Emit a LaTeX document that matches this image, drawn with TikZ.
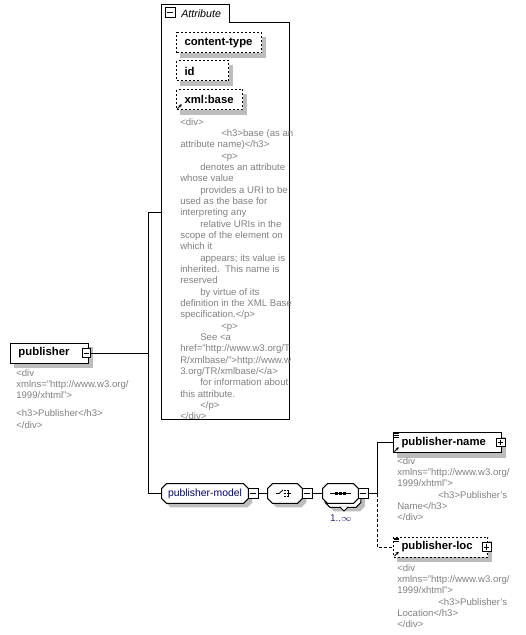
\documentclass[tikz,border=0pt]{standalone}
\usepackage{fontspec}
\setmainfont{Liberation Sans}
\usetikzlibrary{arrows.meta, positioning, backgrounds, calc}
\definecolor{notegray}  {HTML}{808080}
\definecolor{modeltext} {HTML}{000060}
\definecolor{multcol}   {HTML}{3A2A7A}
\definecolor{shadowgray}{HTML}{BDBDBD}
\newcommand{\ia}{\hspace*{15pt}}
\newcommand{\ib}{\hspace*{30.75pt}}
\newcommand{\refmark}[1]{\draw[-{Stealth[length=2.2pt,width=2.4pt]}, line width=0.6pt]
  ([xshift=1.1pt,yshift=1.1pt]#1.south west) -- ++(3.2pt,3.2pt);}
\newcommand{\elemmark}[1]{\foreach \yy in {1.2pt,2.4pt,3.6pt}
  \draw[line width=0.45pt] ([xshift=1.1pt,yshift=-\yy]#1.north west) -- ++(3.6pt,0pt);}
\newcommand{\boxshade}[1]{\fill[shadowgray] ($(#1.south west)+(3pt,-3.5pt)$)
  rectangle ($(#1.north east)+(3pt,-3.5pt)$);}
\newcommand{\octpath}[3]{\path[#1] ($(#2.south west)+(3.5pt+#3,-#3)$) -- ($(#2.south east)+(-3.5pt+#3,-#3)$)
  -- ($(#2.south east)+(#3,3.5pt-#3)$) -- ($(#2.north east)+(#3,-3.5pt-#3)$) -- ($(#2.north east)+(-3.5pt+#3,-#3)$)
  -- ($(#2.north west)+(3.5pt+#3,-#3)$) -- ($(#2.north west)+(#3,-3.5pt-#3)$) -- ($(#2.south west)+(#3,3.5pt-#3)$) -- cycle;}

\begin{document}
\begin{tikzpicture}[
    x=0.75pt, y=-0.75pt,
    elem/.style={draw, line width=0.75pt, fill=white, align=left,
                 minimum height=15pt, inner xsep=6pt, inner ysep=0pt,
                 font=\fontsize{8.5pt}{10pt}\selectfont\bfseries},
    optelem/.style={elem, dash pattern=on 1.5pt off 1.5pt},
    oct/.style={minimum height=14.25pt, inner sep=0pt},
    octline/.style={draw, line width=0.75pt, fill=white},
    octshade/.style={fill=shadowgray},
    note/.style={align=left, inner sep=0pt, text=notegray,
                 font=\fontsize{7.2pt}{8.5pt}\selectfont},
    pmbox/.style={draw, line width=0.75pt, fill=white, minimum size=6.5pt, inner sep=0pt},
    minusbox/.style={pmbox, path picture={
        \draw ([xshift=1.3pt]path picture bounding box.west) -- ([xshift=-1.3pt]path picture bounding box.east);}},
    plusbox/.style={pmbox, path picture={
        \draw ([xshift=1.3pt]path picture bounding box.west) -- ([xshift=-1.3pt]path picture bounding box.east);
        \draw ([yshift=-1.3pt]path picture bounding box.north) -- ([yshift=1.3pt]path picture bounding box.south);}},
    conn/.style={line width=0.75pt},
    optconn/.style={conn, dash pattern=on 2.25pt off 1.5pt},
  ]
    \useasboundingbox (0,0) rectangle (525,635);

    % attribute group
    \node[minimum width=95.25pt, minimum height=310.5pt, inner sep=0pt] (attrgrp) at (225.5,212) {};
    \draw[conn] (attrgrp.south west) -- (attrgrp.north west) -- ([xshift=51pt]attrgrp.north west)
      -- ([xshift=51pt,yshift=-13.5pt]attrgrp.north west) -- ([yshift=-13.5pt]attrgrp.north east)
      -- (attrgrp.south east) -- cycle;
    \node[minusbox, minimum size=7.5pt] (attrpm) at (170,13) {};
    \node[anchor=west, inner sep=0pt, font=\fontsize{8pt}{9pt}\selectfont\itshape] (attrlbl) at (181,14) {Attribute};

    \node[optelem, text width=51.75pt, anchor=west] (ctype) at (176,43) {content-type};
    \node[optelem, text width=27pt, anchor=west] (idattr) at (176,71) {id};
    \node[optelem, text width=37.5pt, anchor=west] (xbase) at (176,99.5) {xml:base};
    \refmark{xbase}

    \node[note, anchor=north west] (basenote) at (180,118) {<div>\\
\ib<h3>base (as an\\
attribute name)</h3>\\
\ib<p>\\
\ia denotes an attribute\\
whose value\\
\ia provides a URI to be\\
used as the base for\\
interpreting any\\
\ia relative URIs in the\\
scope of the element on\\
which it\\
\ia appears; its value is\\
inherited.\ \ This name is\\
reserved\\
\ia by virtue of its\\
definition in the XML Base\\
specification.</p>\\
\ib<p>\\
\ia See <a\\
href="http://www.w3.org/T\\
R/xmlbase/">http://www.w\\
3.org/TR/xmlbase/</a>\\
\ia for information about\\
this attribute.\\
\ia </p>\\
</div>};

    % root element
    \node[elem, text width=46.5pt, anchor=west] (pub) at (10,353) {publisher};
    \node[minusbox] (pubpm) at ([xshift=-2pt]pub.east) {};
    \node[note, anchor=north west] (pubnote) at (16,369) {<div\\
xmlns="http://www.w3.org/\\
1999/xhtml">\\[5pt]
<h3>Publisher</h3>\\
</div>};

    % model group
    \node[oct, minimum width=64.5pt, text=modeltext,
          font=\fontsize{7.8pt}{9pt}\selectfont] (model) at (205,493.5) {publisher-model};
    \node[minusbox, minimum size=7.5pt] (modelpm) at (253,493.5) {};
    \node[oct, minimum width=25.5pt] (choice) at (285,493.5) {};
    \node[minusbox, minimum size=7.5pt] (choicepm) at (307,493.5) {};
    \begin{scope}[shift={(choice.center)}, line width=0.6pt]
      \draw (-9,0) -- (-6,0) -- (-2,-3.5);
      \foreach \dy in {-3,0,3} \fill (-0.8,\dy-0.8) rectangle (0.8,\dy+0.8);
      \draw (1.5,-3) -- (3,-3) -- (3,3) -- (1.5,3) (1.5,0) -- (6,0);
    \end{scope}
    \node[oct, minimum width=26.25pt] (seqback) at (343,497.5) {};
    \node[oct, minimum width=26.25pt] (seq) at (340.5,493.5) {};
    \node[minusbox, minimum size=7.5pt] (seqpm) at (363,493.5) {};
    \begin{scope}[shift={(seq.center)}]
      \draw[line width=0.6pt] (-11,0) -- (10,0);
      \foreach \dx in {-4,0,4} \fill (\dx-1.4,-1.4) rectangle (\dx+1.4,1.4);
    \end{scope}
    \node[inner sep=0pt, text=multcol, font=\fontsize{7.5pt}{9pt}\selectfont] (mult) at (341,518) {1..$\infty$};

    % child elements
    \node[elem, text width=69pt, anchor=west] (pname) at (393,442.5) {publisher-name};
    \node[plusbox] (pnamepm) at ([xshift=-1pt]pname.east) {};
    \elemmark{pname}
    \refmark{pname}
    \node[note, anchor=north west] (pnamenote) at (397,457) {<div\\
xmlns="http://www.w3.org/\\
1999/xhtml">\\
\ib<h3>Publisher's\\
Name</h3>\\
</div>};

    \node[optelem, text width=58.5pt, anchor=west] (ploc) at (393,547) {publisher-loc};
    \node[plusbox] (plocpm) at ([xshift=-1pt]ploc.east) {};
    \elemmark{ploc}
    \refmark{ploc}
    \node[note, anchor=north west] (plocnote) at (397,564) {<div\\
xmlns="http://www.w3.org/\\
1999/xhtml">\\
\ib<h3>Publisher's\\
Location</h3>\\
</div>};

    % connectors
    \coordinate (trunkA) at (148,353);
    \coordinate (trunkB) at (377,493.5);
    \draw[conn] (pubpm.east) -- (trunkA);
    \draw[conn] (trunkA) |- (attrgrp.west);
    \draw[conn] (trunkA) |- (model.west);
    \draw[conn] (modelpm.east) -- (choice.west);
    \draw[conn] (choicepm.east) -- (seq.west);
    \draw[conn] (seqpm.east) -- (trunkB);
    \draw[conn] (trunkB) |- (pname.west);
    \draw[optconn] (trunkB) |- (ploc.west);

    % shadows and model group outlines
    \begin{scope}[on background layer]
      \boxshade{ctype}
      \boxshade{idattr}
      \boxshade{xbase}
      \boxshade{pub}
      \boxshade{pname}
      \boxshade{ploc}
      \octpath{octshade}{model}{3pt}
      \octpath{octshade}{choice}{3pt}
      \octpath{octshade}{seqback}{3pt}
      \octpath{octline}{seqback}{0pt}
      \draw[conn, fill=white] (340,507) -- (344,511) -- (348,507);
      \octpath{octline}{model}{0pt}
      \octpath{octline}{choice}{0pt}
      \octpath{octline}{seq}{0pt}
    \end{scope}
\end{tikzpicture}
\end{document}
